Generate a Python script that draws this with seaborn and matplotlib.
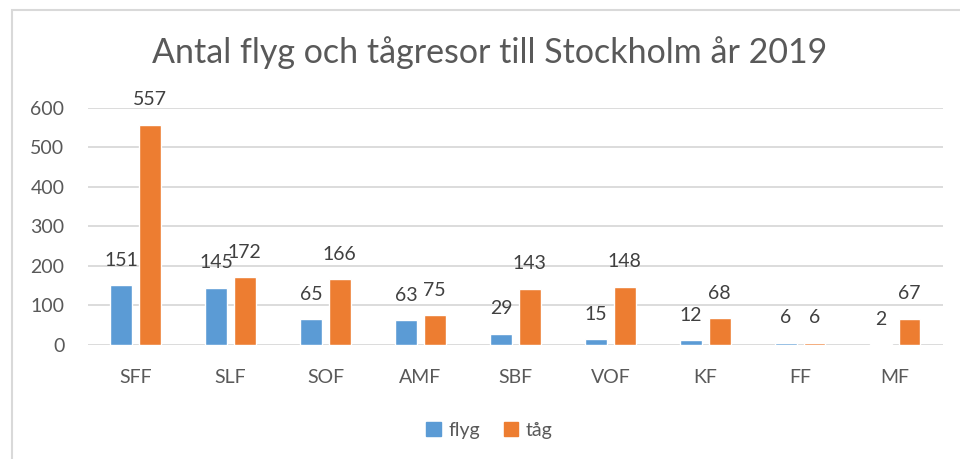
import pandas as pd
import matplotlib.pyplot as plt
import matplotlib.patches as mpatches
import seaborn as sns

# Data
categories = ['SFF', 'SLF', 'SOF', 'AMF', 'SBF', 'VOF', 'KF', 'FF', 'MF']
flyg = [151, 145, 65, 63, 29, 15, 12, 6, 2]
tag = [557, 172, 166, 75, 143, 148, 68, 6, 67]
series = ['flyg', 'tåg']
colors = ['#5B9BD5', '#ED7D31']
yticks = [0, 100, 200, 300, 400, 500, 600]

df = pd.DataFrame({
    'kategori': categories * 2,
    'antal': flyg + tag,
    'typ': [series[0]] * len(categories) + [series[1]] * len(categories),
})

sns.set_theme(style='white')
plt.rcParams['font.family'] = ['Lato', 'DejaVu Sans']
text_col = '#595959'
grid_col = '#D9D9D9'

fig = plt.figure(figsize=(9.6, 4.59), dpi=100)
ax = fig.add_axes([0.0917, 0.2484, 0.8903, 0.5163])

sns.barplot(data=df, x='kategori', y='antal', hue='typ', palette=colors,
            width=0.6, gap=0.23, saturation=1, ax=ax, legend=False)

ax.set_ylim(0, 600)
ax.set_xlim(-0.5, len(categories) - 0.5)
ax.set_yticks(yticks)
ax.yaxis.grid(True, color=grid_col, lw=1.3)
ax.set_axisbelow(True)
for s in ax.spines.values():
    s.set_visible(False)
ax.set_xlabel('')
ax.set_ylabel('')
ax.tick_params(axis='y', length=0, pad=17, labelsize=14, labelcolor=text_col)
ax.tick_params(axis='x', length=0, pad=17, labelsize=14, labelcolor=text_col)

# value labels
for cont in ax.containers:
    for bar in cont:
        h = bar.get_height()
        ax.annotate(f'{int(h)}', (bar.get_x() + bar.get_width() / 2, h),
                    xytext=(0, 18), textcoords='offset points',
                    ha='center', va='center', fontsize=14, color='#404040')

fig.text(0.51, 0.885, 'Antal flyg och tågresor till Stockholm år 2019',
         ha='center', va='center', fontsize=24.5, color=text_col)

handles = [mpatches.Patch(color=c, label=s) for c, s in zip(colors, series)]
fig.legend(handles=handles, loc='center', bbox_to_anchor=(0.51, 0.063), ncol=2,
           frameon=False, fontsize=14, handlelength=0.75, handleheight=0.75,
           handletextpad=0.4, columnspacing=1.2, labelcolor=text_col)

# chart area border
fig.patches.append(mpatches.Rectangle((12 / 960, -0.05), 1.0, 1 - 10 / 459 + 0.05,
                                      transform=fig.transFigure, fill=False,
                                      edgecolor=grid_col, lw=1.5))

fig.savefig('out.png', dpi=100, facecolor='white')
